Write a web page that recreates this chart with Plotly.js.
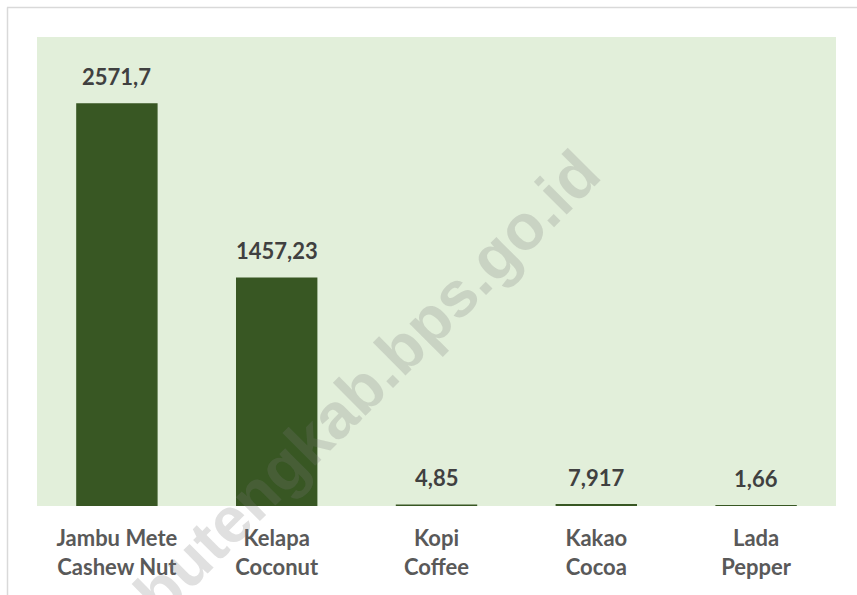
<!DOCTYPE html>
<html>
<head>
<meta charset="utf-8">
<script src="https://cdn.plot.ly/plotly-3.0.1.min.js"></script>
<style>html,body{margin:0;padding:0;background:#fff;}#chart{width:857px;height:595px;}</style>
</head>
<body>
<div id="chart"></div>
<script>
const categories = ['Jambu Mete<br>Cashew Nut', 'Kelapa<br>Coconut', 'Kopi<br>Coffee', 'Kakao<br>Cocoa', 'Lada<br>Pepper'];
const values = [2571.7, 1457.23, 4.85, 7.917, 1.66];
const valueLabels = ['2571,7', '1457,23', '4,85', '7,917', '1,66'];
const watermark = 'butengkab.bps.go.id';

const W = 857, H = 595, L = 37, R = 21, T = 37, B = 89;
const pw = W - L - R, ph = H - T - B;
const px = v => (v - L) / pw;
const py = v => (H - B - v) / ph;

const barColor = '#385723';
const labelFont = {family: 'Lato, "Open Sans", sans-serif', size: 22, weight: 700, color: '#404040'};

const annotations = categories.map((c, i) => ({
  x: c, y: values[i], xref: 'x', yref: 'y',
  text: valueLabels[i], showarrow: false,
  yanchor: 'bottom', yshift: 12,
  font: labelFont
}));
annotations.push({
  xref: 'paper', yref: 'paper', x: px(367), y: py(383),
  text: watermark, showarrow: false, textangle: -45,
  xanchor: 'center', yanchor: 'middle',
  font: {family: '"Liberation Sans", Arial, sans-serif', size: 64, weight: 700, color: 'rgba(120,120,120,0.23)'}
});

const data = [{
  type: 'bar', x: categories, y: values,
  marker: {color: barColor, line: {color: barColor, width: 1.5}},
  hoverinfo: 'none'
}];

const layout = {
  width: W, height: H,
  margin: {l: L, r: R, t: T, b: B, pad: 0},
  paper_bgcolor: '#ffffff', plot_bgcolor: '#e2efda',
  bargap: 0.5,
  showlegend: false,
  xaxis: {
    type: 'category', showgrid: false, zeroline: false, showline: false, ticks: '',
    tickfont: {family: 'Lato, "Open Sans", sans-serif', size: 22, weight: 700, color: '#595959'},
    ticklabelstandoff: 17
  },
  yaxis: {range: [0, 3000], showgrid: false, zeroline: false, showline: false, showticklabels: false, ticks: ''},
  annotations: annotations,
  shapes: [
    {type: 'line', xref: 'paper', yref: 'paper', x0: px(7), x1: px(870), y0: py(7.5), y1: py(7.5), line: {color: '#d9d9d9', width: 1.5}},
    {type: 'line', xref: 'paper', yref: 'paper', x0: px(7.5), x1: px(7.5), y0: py(7.5), y1: py(610), line: {color: '#d9d9d9', width: 1.5}}
  ]
};

Plotly.newPlot('chart', data, layout, {staticPlot: true, displayModeBar: false});
</script>
</body>
</html>
